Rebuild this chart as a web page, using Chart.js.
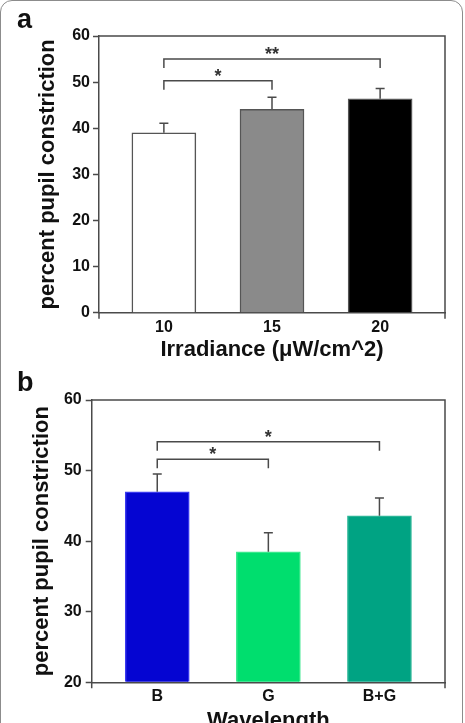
<!DOCTYPE html>
<html>
<head>
<meta charset="utf-8">
<script src="https://cdn.jsdelivr.net/npm/chart.js@4.4.0/dist/chart.umd.min.js"></script>
<style>
html, body { margin: 0; padding: 0; width: 465px; height: 723px; overflow: hidden; background: #fff; }
#frame { position: absolute; left: 0; top: 0; width: 461px; height: 780px; border: 1.5px solid #8c8c8c; border-radius: 12px; }
.wrap { position: absolute; left: 0; width: 465px; }
#wrapA { top: 0; height: 363px; }
#wrapB { top: 362px; height: 372px; }
.letter { position: absolute; left: 17px; font: bold 27px "Liberation Sans", Arial, sans-serif; line-height: 27px; color: #111; }
</style>
</head>
<body>
<div id="frame"></div>
<div class="wrap" id="wrapA"><canvas id="chartA"></canvas></div>
<div class="wrap" id="wrapB"><canvas id="chartB"></canvas></div>
<div class="letter" style="top:6px">a</div>
<div class="letter" style="top:369px">b</div>
<script>
// panel a
var irradiance = ["10", "15", "20"];
var constrictionA = [39.0, 44.1, 46.4];
var errorA = [2.1, 2.6, 2.2];
var pairsA = [[0, 1, "*"], [0, 2, "**"]];
var bracketLevelsA = [50.3, 55.0];
var colorsA = ["#ffffff", "#8a8a8a", "#000000"];

// panel b
var wavelength = ["B", "G", "B+G"];
var constrictionB = [47.0, 38.5, 43.6];
var errorB = [2.5, 2.7, 2.5];
var pairsB = [[0, 1, "*"], [0, 2, "*"]];
var bracketLevelsB = [51.6, 54.1];
var colorsB = ["#0505d2", "#00de6e", "#00a383"];
var bordersB = ["#3a3aee", "#3ae88c", "#2ab596"];

var FONT = "'Liberation Sans', Arial, sans-serif";
var INK = "#4a4a4a";

var extras = {
  id: "extras",
  afterDatasetsDraw(chart, args, opts) {
    var ctx = chart.ctx, ca = chart.chartArea;
    var x = chart.scales.x, y = chart.scales.y;
    var meta = chart.getDatasetMeta(0);
    var ds = chart.data.datasets[0];
    ctx.save();
    ctx.strokeStyle = INK;
    ctx.lineWidth = 1.5;
    // error bars (upper only)
    meta.data.forEach(function (bar, i) {
      var top = y.getPixelForValue(ds.data[i].y + opts.errors[i]);
      ctx.beginPath();
      ctx.moveTo(bar.x, bar.y);
      ctx.lineTo(bar.x, top);
      ctx.moveTo(bar.x - 4.5, top);
      ctx.lineTo(bar.x + 4.5, top);
      ctx.stroke();
    });
    // box top/right and the little end ticks under the x axis
    ctx.beginPath();
    ctx.moveTo(ca.left, ca.top);
    ctx.lineTo(ca.right, ca.top);
    ctx.lineTo(ca.right, ca.bottom + 6);
    ctx.moveTo(ca.left, ca.bottom);
    ctx.lineTo(ca.left, ca.bottom + 6);
    ctx.stroke();
    // significance brackets
    ctx.fillStyle = "#333";
    ctx.font = "bold 18px " + FONT;
    ctx.textAlign = "center";
    ctx.textBaseline = "alphabetic";
    opts.pairs.forEach(function (p, k) {
      var x1 = x.getPixelForValue(p[0]), x2 = x.getPixelForValue(p[1]);
      var yy = y.getPixelForValue(opts.levels[k]);
      ctx.beginPath();
      ctx.moveTo(x1, yy + 9);
      ctx.lineTo(x1, yy);
      ctx.lineTo(x2, yy);
      ctx.lineTo(x2, yy + 9);
      ctx.stroke();
      ctx.fillText(p[2], (x1 + x2) / 2, yy + 1);
    });
    ctx.restore();
  }
};

function panel(id, c) {
  return new Chart(id, {
    type: "bar",
    data: {
      datasets: [{
        data: c.values.map(function (v, i) { return { x: i, y: v }; }),
        backgroundColor: c.colors,
        borderColor: c.borders,
        borderWidth: 1.5,
        barThickness: 64,
        base: c.yMin
      }]
    },
    options: {
      responsive: true,
      maintainAspectRatio: false,
      animation: false,
      layout: { padding: { top: c.padTop, right: 20, left: 0, bottom: 0 } },
      plugins: {
        legend: { display: false },
        tooltip: { enabled: false },
        extras: { errors: c.errors, pairs: c.pairs, levels: c.levels }
      },
      scales: {
        x: {
          type: "linear",
          offset: false,
          min: c.xMin,
          max: c.xMax,
          afterBuildTicks: function (s) { s.ticks = c.cats.map(function (_, i) { return { value: i }; }); },
          afterFit: function (s) { s.height = c.xHeight; },
          ticks: {
            callback: function (v) { return c.cats[v]; },
            font: { family: FONT, size: 16, weight: "bold" },
            color: "#111",
            padding: 5,
            maxRotation: 0,
            autoSkip: false
          },
          grid: { offset: false, drawOnChartArea: false, drawTicks: false },
          border: { color: INK, width: 1.5 },
          title: {
            display: true,
            text: c.xTitle,
            font: { family: FONT, size: 22, weight: "bold" },
            color: "#111",
            padding: { top: 0, bottom: 0 }
          }
        },
        y: {
          min: c.yMin,
          max: 60,
          afterFit: function (s) { s.width = c.yWidth; },
          ticks: {
            stepSize: 10,
            font: { family: FONT, size: 16, weight: "bold" },
            color: "#111",
            padding: c.tickPad
          },
          grid: { drawOnChartArea: false, tickLength: 6, tickColor: INK, tickWidth: 1.5 },
          border: { color: INK, width: 1.5 },
          title: {
            display: true,
            text: "percent pupil constriction",
            font: { family: FONT, size: 22, weight: "bold" },
            color: "#111",
            padding: { top: c.titlePad, bottom: 0 }
          }
        }
      }
    },
    plugins: [extras]
  });
}

panel("chartA", {
  cats: irradiance, values: constrictionA, errors: errorA, pairs: pairsA, levels: bracketLevelsA,
  colors: colorsA, borders: "#555555", yMin: 0, xMin: -0.6, xMax: 2.6,
  padTop: 36, xHeight: 50.3, yWidth: 99, tickPad: 3, titlePad: 35,
  xTitle: "Irradiance (μW/cm^2)"
});

panel("chartB", {
  cats: wavelength, values: constrictionB, errors: errorB, pairs: pairsB, levels: bracketLevelsB,
  colors: colorsB, borders: bordersB, yMin: 20, xMin: -0.59, xMax: 2.59,
  padTop: 38, xHeight: 51.7, yWidth: 91.7, tickPad: 4, titlePad: 29,
  xTitle: "Wavelength"
});
</script>
</body>
</html>
